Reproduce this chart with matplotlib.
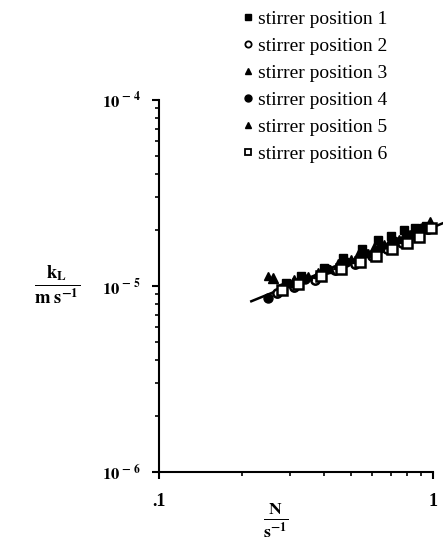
import numpy as np
import matplotlib.pyplot as plt
from matplotlib.lines import Line2D
from matplotlib.ticker import NullFormatter

plt.rcParams['font.family'] = ['Liberation Serif', 'DejaVu Serif']
plt.rcParams['mathtext.fontset'] = 'stix'

# stirring speed N (1/s) and mass transfer coefficient kL (m/s), per stirrer position
N_pos1 = [0.29, 0.33, 0.40, 0.47, 0.55, 0.63, 0.70, 0.78, 0.86, 0.94]
kL_pos1 = [1.04e-5, 1.13e-5, 1.25e-5, 1.41e-5, 1.57e-5, 1.76e-5, 1.85e-5, 2.00e-5, 2.05e-5, 2.10e-5]

N_pos2 = [0.27, 0.31, 0.37, 0.44, 0.52, 0.60, 0.68, 0.77, 0.87, 0.96]
kL_pos2 = [9.2e-6, 9.9e-6, 1.08e-5, 1.22e-5, 1.32e-5, 1.45e-5, 1.57e-5, 1.70e-5, 1.85e-5, 2.02e-5]

N_pos3 = [0.25, 0.30, 0.35, 0.42, 0.50, 0.58, 0.66, 0.75, 0.84, 0.92]
kL_pos3 = [1.13e-5, 1.04e-5, 1.13e-5, 1.23e-5, 1.40e-5, 1.50e-5, 1.67e-5, 1.78e-5, 1.95e-5, 2.09e-5]

N_pos4 = [0.25, 0.28, 0.34, 0.41, 0.48, 0.56, 0.64, 0.72, 0.82, 0.91]
kL_pos4 = [8.6e-6, 9.7e-6, 1.09e-5, 1.24e-5, 1.35e-5, 1.50e-5, 1.59e-5, 1.75e-5, 1.88e-5, 2.06e-5]

N_pos5 = [0.26, 0.31, 0.38, 0.45, 0.53, 0.61, 0.69, 0.79, 0.88, 0.97]
kL_pos5 = [1.11e-5, 1.08e-5, 1.18e-5, 1.32e-5, 1.46e-5, 1.60e-5, 1.71e-5, 1.89e-5, 2.02e-5, 2.20e-5]

N_pos6 = [0.28, 0.32, 0.39, 0.46, 0.54, 0.62, 0.71, 0.80, 0.89, 0.98]
kL_pos6 = [9.5e-6, 1.02e-5, 1.13e-5, 1.24e-5, 1.35e-5, 1.45e-5, 1.57e-5, 1.71e-5, 1.84e-5, 2.05e-5]

labels = ['stirrer position 1', 'stirrer position 2', 'stirrer position 3',
          'stirrer position 4', 'stirrer position 5', 'stirrer position 6']

# correlation line kL = a * N^b
fit_a = 2.07e-5
fit_b = 0.6
fit_N = [0.217, 1.09]


def main():
    fig = plt.figure(figsize=(4.43, 5.51), dpi=100)
    ax = fig.add_axes([0.359, 0.143, 0.619, 0.676])

    data = [(N_pos1, kL_pos1), (N_pos2, kL_pos2), (N_pos3, kL_pos3),
            (N_pos4, kL_pos4), (N_pos5, kL_pos5), (N_pos6, kL_pos6)]
    styles = [dict(marker='s', ms=6, mfc='black', mec='black'),
              dict(marker='o', ms=6, mfc='white', mec='black', mew=1.8),
              dict(marker='^', ms=6, mfc='black', mec='black'),
              dict(marker='o', ms=6.5, mfc='black', mec='black'),
              dict(marker='^', ms=7, mfc='black', mec='black'),
              dict(marker='s', ms=6.5, mfc='white', mec='black', mew=1.8)]
    leg_ms = [4.5, 4.5, 4.5, 5, 5, 5]

    fN = np.array(fit_N)
    ax.plot(fN, fit_a * fN ** fit_b, color='black', lw=1.8, clip_on=False, zorder=2)

    handles = []
    for (x, y), st, lab, lm in zip(data, styles, labels, leg_ms):
        ax.plot(x, y, ls='none', clip_on=False, zorder=3, **st)
        hst = dict(st)
        hst['ms'] = lm
        hst['mew'] = 1.3 if 'mew' in st else 1.0
        handles.append(Line2D([], [], ls='none', label=lab, **hst))

    ax.set_xscale('log')
    ax.set_yscale('log')
    ax.set_xlim(0.1, 1)
    ax.set_ylim(1e-6, 1e-4)

    ax.spines['top'].set_visible(False)
    ax.spines['right'].set_visible(False)
    ax.spines['left'].set_linewidth(1.5)
    ax.spines['bottom'].set_linewidth(1.5)
    ax.tick_params(which='major', direction='out', length=5, width=1.5)
    ax.tick_params(which='minor', direction='out', length=3, width=1.2)
    ax.xaxis.set_minor_formatter(NullFormatter())
    ax.yaxis.set_minor_formatter(NullFormatter())

    ax.set_yticks([1e-6, 1e-5, 1e-4])
    ax.set_yticklabels([r'$\mathbf{10^{\,-\,6}}$', r'$\mathbf{10^{\,-\,5}}$', r'$\mathbf{10^{\,-\,4}}$'],
                       fontsize=12)
    ax.set_xticks([0.1, 1])
    ax.set_xticklabels(['.1', '1'], fontsize=13, fontweight='bold')
    ax.tick_params(axis='x', which='major', pad=10)
    ax.tick_params(axis='y', which='major', pad=8)

    fig.text(0.13, 0.483, r'$\mathbf{\frac{k_{L}}{m\ s^{-1}}}$', fontsize=19,
             ha='center', va='center')
    fig.text(0.622, 0.055, r'$\mathbf{\frac{N}{s^{-1}}}$', fontsize=18,
             ha='center', va='center')

    fig.legend(handles=handles, loc='upper left', bbox_to_anchor=(0.52, 0.995),
               frameon=False, fontsize=14, handletextpad=0.0, handlelength=1.0,
               labelspacing=0.48, borderaxespad=0.0)

    fig.savefig('out.png', dpi=100)


if __name__ == '__main__':
    main()
